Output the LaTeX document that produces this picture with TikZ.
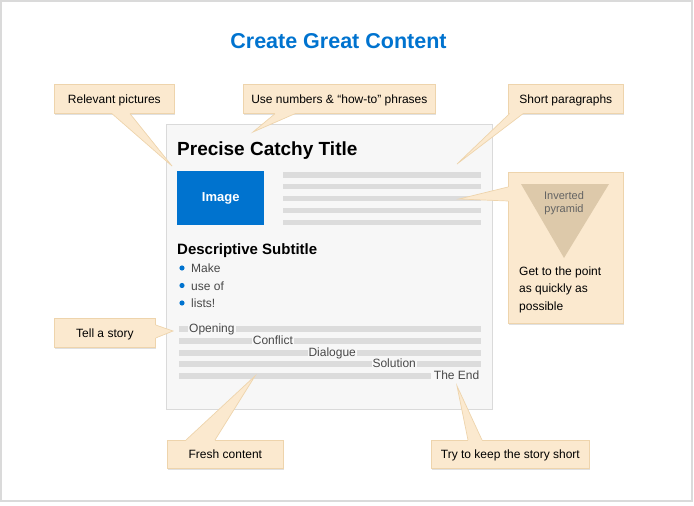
\documentclass[tikz,border=0pt]{standalone}
\usepackage{fontspec}
\setmainfont{Liberation Sans}
\usetikzlibrary{calc}
\definecolor{tipbg}{RGB}{251,233,207}
\definecolor{tipline}{RGB}{238,212,172}
\definecolor{panelbg}{RGB}{247,247,247}
\definecolor{panelline}{RGB}{218,218,218}
\definecolor{barc}{RGB}{220,220,220}
\definecolor{headblue}{RGB}{0,115,207}
\definecolor{pyrc}{RGB}{221,201,170}
\definecolor{greytxt}{RGB}{72,72,72}
\newcommand\fsz[1]{\fontsize{#1}{#1}\selectfont}
% tail of a callout: base point, tip, base point, shift into the box
\newcommand\tail[4]{%
  \fill[tipbg] ($#1+#4$) -- ($#1$) -- #2 -- ($#3$) -- ($#3+#4$) -- cycle;
  \draw[tipline,line width=0.7pt] ($#1$) -- #2 -- ($#3$);}

\begin{document}
\begin{tikzpicture}[x=1pt,y=-1pt,
   call/.style={draw=tipline,fill=tipbg,line width=0.7pt,anchor=north west,inner sep=0,
     minimum height=29pt,text height=8.6pt,text depth=0pt,font=\fsz{12},
     preaction={fill=black!12,transform canvas={shift={(1,1.5)}}}},
   bar/.style={fill=barc},
   story/.style={font=\fsz{12},text=greytxt,fill=panelbg,inner xsep=1pt,inner ysep=0.5pt,anchor=base west},
   item/.style={font=\fsz{12},text=greytxt,inner sep=0,anchor=base west}]
  \useasboundingbox (0,0) rectangle (694,506);
  \draw[panelline,line width=1.5pt] (1,1) rectangle (692,501);
  \node[font=\fsz{21.5}\bfseries,text=headblue,anchor=base] (ttl) at (338.5,48) {Create Great Content};

  % the page
  \node[draw=panelline,fill=panelbg,line width=0.8pt,anchor=north west,minimum width=326pt,minimum height=285pt,inner sep=0] (pg) at (166,124) {};
  \node[font=\fsz{19}\bfseries,anchor=base west,inner sep=0] (hd) at (177,155) {Precise Catchy Title};
  \node[fill=headblue,anchor=north west,minimum width=87pt,minimum height=54pt,inner sep=0,
    font=\fsz{13}\bfseries,text=white] (img) at (177,171) {Image};
  \foreach \i in {0,...,4}
    \fill[bar] (283,172+11.9*\i) rectangle (481,177.5+11.9*\i);
  \node[font=\fsz{15}\bfseries,anchor=base west,inner sep=0] (sub) at (177,254) {Descriptive Subtitle};
  \foreach \y/\t [count=\k] in {268/Make,285.5/use of,303/lists!} {
    \fill[headblue] (182,\y) circle (2.6);
    \node[item] (it\k) at (191,\y+4.5) {\t};
  }
  \foreach \i in {0,...,4}
    \fill[bar] (179,326+11.8*\i) rectangle (481,332+11.8*\i);
  \node[story] (op) at (188,332.5) {Opening};
  \node[story] (cf) at (251.7,344.2) {Conflict};
  \node[story] (dl) at (307.3,356) {Dialogue};
  \node[story] (so) at (371.3,367.7) {Solution};
  \node[story,anchor=base east,inner xsep=2.5pt] (en) at (482,379.4) {The End};

  % callouts
  \node[call,minimum width=120pt] (rp) at (54,84) {Relevant pictures};
  \node[call,minimum width=192pt] (hn) at (243,84) {Use numbers \& “how-to” phrases};
  \node[call,minimum width=115pt] (sp) at (508,84) {Short paragraphs};
  \node[call,minimum width=115pt,minimum height=151pt] (ip) at (508,172) {};
  \node[call,minimum width=101pt] (ts) at (54,318) {Tell a story};
  \node[call,minimum width=116pt,minimum height=28pt] (fc) at (167,440) {Fresh content};
  \node[call,minimum width=158pt,minimum height=28pt] (ks) at (431,440) {Try to keep the story short};

  \coordinate (rpt) at (172,166);
  \coordinate (hnt) at (253,132);
  \coordinate (spt) at (457,164);
  \coordinate (ipt) at (459,199);
  \coordinate (tst) at (173,331);
  \coordinate (fct) at (255,376);
  \coordinate (kst) at (457,386);
  \tail{(rp.south west)+(58,0)}{(rpt)}{(rp.south west)+(76,0)}{(0,-1.2)}
  \tail{(hn.south west)+(32,0)}{(hnt)}{(hn.south west)+(52,0)}{(0,-1.2)}
  \tail{(sp.south west)+(1.5,0)}{(spt)}{(sp.south west)+(15,0)}{(0,-1.2)}
  \tail{(ip.north west)+(0,15)}{(ipt)}{(ip.north west)+(0,29)}{(1.2,0)}
  \tail{(ts.north east)+(0,7)}{(tst)}{(ts.north east)+(0,20)}{(-1.2,0)}
  \tail{(fc.north west)+(19,0)}{(fct)}{(fc.north west)+(48,0)}{(0,1.2)}
  \tail{(ks.north west)+(37,0)}{(kst)}{(ks.north west)+(51,0)}{(0,1.2)}

  % inverted pyramid
  \fill[pyrc] (521,184) -- (609,184) -- (564,258) -- cycle;
  \node[font=\fsz{11},text=greytxt!85,align=center,anchor=north,inner sep=0] (pyr) at (564,191.5)
    {Inverted\\[1.5pt]pyramid};
  \node[font=\fsz{12},align=left,anchor=north west,inner sep=0] (gp) at (519,266.4)
    {Get to the point\\[5.5pt]as quickly as\\[5.5pt]possible};
\end{tikzpicture}
\end{document}
